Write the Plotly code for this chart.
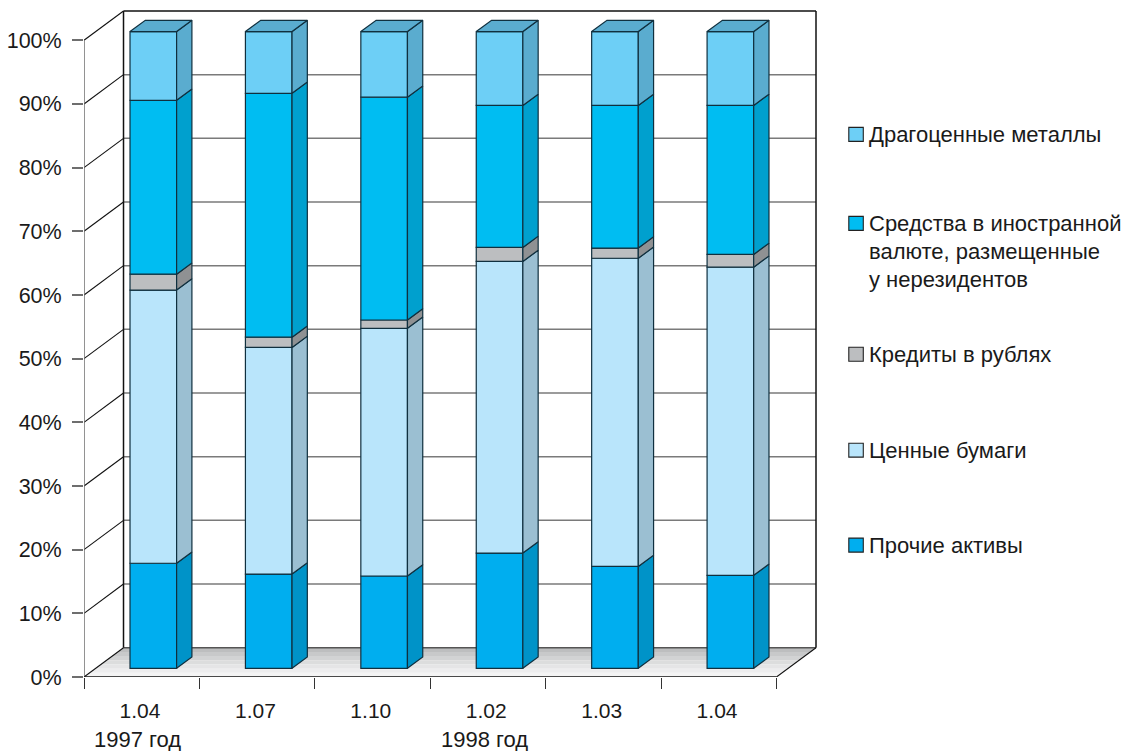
import plotly.graph_objects as go

# ---------- data ----------
categories = ["1.04", "1.07", "1.10", "1.02", "1.03", "1.04"]
series_names = ["Прочие активы", "Ценные бумаги", "Кредиты в рублях",
                "Средства в иностранной валюте, размещенные у нерезидентов",
                "Драгоценные металлы"]
other_assets = [16.5, 14.8, 14.5, 18.1, 16.0, 14.6]
securities = [42.9, 35.6, 38.9, 45.8, 48.4, 48.4]
rub_credits = [2.5, 1.6, 1.3, 2.2, 1.6, 2.0]
fx_funds = [27.3, 38.3, 35.0, 22.3, 22.4, 23.4]
precious = [10.8, 9.7, 10.3, 11.6, 11.6, 11.6]
y_ticks = [0, 10, 20, 30, 40, 50, 60, 70, 80, 90, 100]
y_labels = ["0%", "10%", "20%", "30%", "40%", "50%", "60%", "70%", "80%", "90%", "100%"]
legend_lines = [["Драгоценные металлы"],
                ["Средства в иностранной", "валюте, размещенные", "у нерезидентов"],
                ["Кредиты в рублях"], ["Ценные бумаги"], ["Прочие активы"]]
year_labels = [("1997 год", 137), ("1998 год", 484)]

# ---------- style ----------
front = ["#00aeef", "#b9e5fb", "#bcbec0", "#00bdf2", "#6dcff6"]
side = ["#0093c8", "#9bbfd2", "#8f9193", "#00a0ce", "#5aaccf"]
top_color = "#5aaccf"
edge = "#10303f"
font = "Liberation Sans"
fs = 22

W, H = 1125, 751
L, B, R, T = 83.5, 677.0, 815.7, 10.5   # pixel box of the 3-D frame
PX = 115.4            # pixels per category
PY = 6.37             # pixels per percent
WALL_DX = 39.5 / PX
WALL_DY = 29.3 / PY
BAR_OX = 11.6 / PX
BAR_OY = 8.7 / PY
BAR_W = 46.6 / PX
BAR_DX = 15.3 / PX
BAR_DY = 11.3 / PY
PAD = 2.0
PLOT_W = R + PAD - L
PLOT_H = B - (T - PAD)


def paper_x(px):
    return (px - L) / PLOT_W


def paper_y(py):
    return (B - py) / PLOT_H


x0 = -0.5
x1 = len(categories) - 0.5
xr = [x0, x1 + WALL_DX + PAD / PX]
yr = [0, 100 + WALL_DY + PAD / PY]

series = [other_assets, securities, rub_credits, fx_funds, precious]
fig = go.Figure()

# front faces + side faces
bottoms = [0.0] * len(categories)
xs = [i + BAR_OX for i in range(len(categories))]
for k, vals in enumerate(series):
    fig.add_trace(go.Bar(x=xs, y=vals, base=[b + BAR_OY for b in bottoms], width=BAR_W,
                         name=series_names[k], marker=dict(color=front[k], line=dict(color=edge, width=1.2)),
                         showlegend=False))
    px, py = [], []
    for i, v in enumerate(vals):
        xr_ = xs[i] + BAR_W / 2
        lo = bottoms[i] + BAR_OY
        hi = lo + v
        px += [xr_, xr_ + BAR_DX, xr_ + BAR_DX, xr_, xr_, None]
        py += [lo, lo + BAR_DY, hi + BAR_DY, hi, lo, None]
    fig.add_trace(go.Scatter(x=px, y=py, mode="lines", fill="toself", fillcolor=side[k],
                             line=dict(color=edge, width=1.2), showlegend=False, hoverinfo="skip"))
    bottoms = [b + v for b, v in zip(bottoms, vals)]

# top faces
px, py = [], []
for i, total in enumerate(bottoms):
    xa = xs[i] - BAR_W / 2
    xb = xs[i] + BAR_W / 2
    hi = total + BAR_OY
    px += [xa, xb, xb + BAR_DX, xa + BAR_DX, xa, None]
    py += [hi, hi, hi + BAR_DY, hi + BAR_DY, hi, None]
fig.add_trace(go.Scatter(x=px, y=py, mode="lines", fill="toself", fillcolor=top_color,
                         line=dict(color=edge, width=1.2), showlegend=False, hoverinfo="skip"))

# front axis lines
fig.add_trace(go.Scatter(x=[x0, x0], y=[0, 100], mode="lines", line=dict(color="#6e6e6e", width=1.5),
                         cliponaxis=False, showlegend=False, hoverinfo="skip"))
fig.add_trace(go.Scatter(x=[x0, x1], y=[0, 0], mode="lines", line=dict(color="#111111", width=1.5),
                         cliponaxis=False, showlegend=False, hoverinfo="skip"))

# ---------- walls and floor ----------
shapes = []
bands = ["#bdbebf", "#c8c9ca", "#d2d3d4", "#dcdddd", "#e5e5e6", "#ededee", "#f4f4f4"]
n = len(bands)
for j, col in enumerate(bands):
    t0 = 1 - j / n
    t1 = 1 - (j + 1) / n
    pts = [(x0 + WALL_DX * t1, WALL_DY * t1), (x1 + WALL_DX * t1, WALL_DY * t1),
           (x1 + WALL_DX * t0, WALL_DY * t0), (x0 + WALL_DX * t0, WALL_DY * t0)]
    path = "M" + " L".join(f"{a},{b}" for a, b in pts) + " Z"
    shapes.append(dict(type="path", path=path, xref="x", yref="y", layer="below",
                       fillcolor=col, line=dict(width=0)))

xb0, xb1 = x0 + WALL_DX, x1 + WALL_DX
for v in y_ticks:
    shapes.append(dict(type="line", xref="x", yref="y", layer="below", x0=x0, y0=v,
                       x1=xb0, y1=v + WALL_DY, line=dict(color="#111111", width=1.1)))
    shapes.append(dict(type="line", xref="x", yref="y", layer="below", x0=xb0, y0=v + WALL_DY,
                       x1=xb1, y1=v + WALL_DY,
                       line=dict(color="#111111" if v == 100 else ("#555555" if v == 0 else "#7a7a7a"),
                                 width=1.5)))
shapes.append(dict(type="line", xref="x", yref="y", layer="below", x0=xb0, y0=WALL_DY, x1=xb0,
                   y1=100 + WALL_DY, line=dict(color="#111111", width=1.5)))
shapes.append(dict(type="line", xref="x", yref="y", layer="below", x0=xb1, y0=WALL_DY, x1=xb1,
                   y1=100 + WALL_DY, line=dict(color="#111111", width=1.5)))
shapes.append(dict(type="line", xref="x", yref="y", layer="below", x0=x1, y0=0, x1=xb1, y1=WALL_DY,
                   line=dict(color="#111111", width=1.1)))

# ---------- legend ----------
annotations = []
first_y = [134, 223, 354, 450, 545]
line_step = 28
for k, (lines, y) in enumerate(zip(legend_lines, first_y)):
    idx = len(series) - 1 - k
    shapes.append(dict(type="rect", xref="paper", yref="paper",
                       x0=paper_x(848.5), x1=paper_x(863), y0=paper_y(y + 7), y1=paper_y(y - 7),
                       fillcolor=front[idx], line=dict(color="#222222", width=1.1)))
    for m, text in enumerate(lines):
        annotations.append(dict(text=text, xref="paper", yref="paper", x=paper_x(869),
                                y=paper_y(y + m * line_step), xanchor="left", yanchor="middle",
                                showarrow=False, xshift=-2,
                                font=dict(family=font, size=fs, color="#1a1a1a")))
for text, xp in year_labels:
    annotations.append(dict(text=text, xref="paper", yref="paper", x=paper_x(xp), y=paper_y(740),
                            xanchor="center", yanchor="middle", showarrow=False,
                            font=dict(family=font, size=fs, color="#1a1a1a")))

fig.update_layout(
    width=W, height=H, barmode="overlay", plot_bgcolor="white", paper_bgcolor="white",
    margin=dict(l=L, r=W - R - PAD, t=T - PAD, b=H - B, autoexpand=False),
    font=dict(family=font, size=fs, color="#1a1a1a"),
    showlegend=False, shapes=shapes, annotations=annotations,
    xaxis=dict(range=xr, showgrid=False, zeroline=False, showline=False,
               tickmode="array", tickvals=[i - 0.015 for i in range(len(categories))], ticktext=categories,
               ticks="outside", ticklen=0, ticklabelstandoff=15, tickfont=dict(size=21),
               minor=dict(tickmode="array", tickvals=[x0 + i for i in range(len(categories) + 1)],
                          ticks="outside", ticklen=11, tickcolor="#333333", tickwidth=1.3)),
    yaxis=dict(range=yr, showgrid=False, zeroline=False, showline=False,
               tickmode="array", tickvals=y_ticks, ticktext=y_labels,
               ticks="outside", ticklen=11, tickcolor="#6e6e6e", tickwidth=1.5, ticklabelstandoff=6,
               tickfont=dict(size=21.5)),
)
fig.write_html("out.html", config={"displayModeBar": False},
               post_script="document.body.style.margin='0';document.documentElement.style.overflow='hidden';")
